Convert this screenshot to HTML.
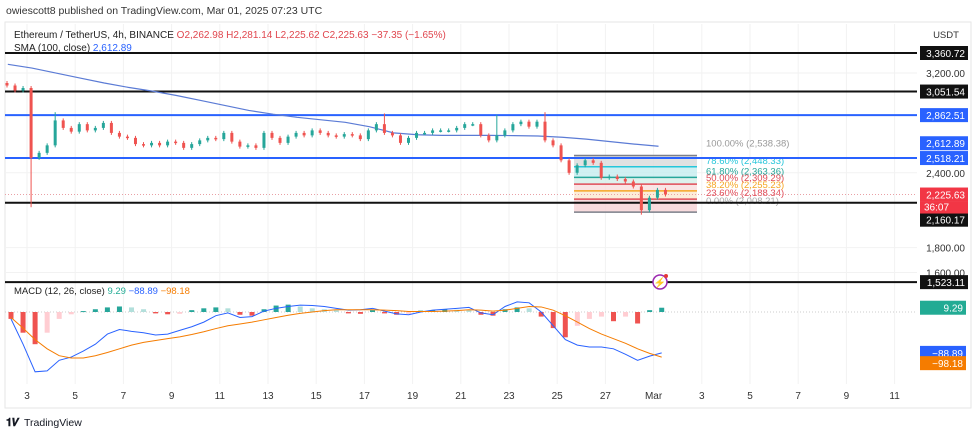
<!DOCTYPE html>
<html><head><meta charset="utf-8">
<style>
body{margin:0;background:#fff;font-family:"Liberation Sans",sans-serif;}
#wrap{position:relative;width:980px;height:436px;overflow:hidden;background:#fff;}
svg text{font-family:"Liberation Sans",sans-serif;}
</style></head>
<body>
<div id="wrap">
<svg id="chart" width="980" height="436" viewBox="0 0 980 436">
  <text x="6" y="14" font-size="10.5" fill="#333">owiescott8 published on TradingView.com, Mar 01, 2025 07:23 UTC</text>
  <rect x="5" y="22" width="966" height="386" fill="none" stroke="#e6e6e6"/>
  <g id="grid"></g>
  <g id="fib"></g>
  <g id="hlines"></g>
  <g id="sma"></g>
  <g id="candles"></g>
  <g id="macd"></g>
  <g id="axis"></g>
  <text x="14" y="38" font-size="10" fill="#222">Ethereum / TetherUS, 4h, BINANCE <tspan fill="#e0464e">O2,262.98</tspan> <tspan fill="#e0464e">H2,281.14</tspan> <tspan fill="#e0464e">L2,225.62</tspan> <tspan fill="#e0464e">C2,225.63</tspan> <tspan fill="#e0464e">−37.35 (−1.65%)</tspan></text>
  <text x="14" y="51" font-size="10" fill="#222">SMA (100, close) <tspan fill="#2962ff">2,612.89</tspan></text>
  <text x="14" y="294" font-size="9.5" fill="#222">MACD (12, 26, close) <tspan fill="#22ab94">9.29</tspan> <tspan fill="#2962ff">−88.89</tspan> <tspan fill="#f57c00">−98.18</tspan></text>
  <g>
    <circle cx="660" cy="282" r="7" fill="#fff" stroke="#9c27b0" stroke-width="1.5"/>
    <text x="660" y="286" font-size="10" fill="#9c27b0" text-anchor="middle">⚡</text>
    <circle cx="666" cy="276" r="2" fill="#e53935"/>
  </g>
  <g>
    <text x="6" y="426" font-size="11" font-weight="bold" fill="#131722">𝟏𝑽</text>
    <text x="24" y="426" font-size="10.5" fill="#131722">TradingView</text>
  </g>
</svg>
</div>
<script>
// ---- data ----
const closes=[3100,3060,3080, 2520,2560,2620, 2820,2760,2730, 2790,2740,2760, 2800,2720,2690, 2680,2630,2620, 2640,2620,2650, 2640,2600,2630, 2660,2680,2670, 2720,2650,2610, 2620,2600,2720, 2680,2640,2690, 2720,2700,2740, 2720,2700,2690, 2710,2700,2670, 2740,2790,2720, 2700,2640,2680, 2720,2720,2740, 2740,2740,2760, 2790,2790,2700, 2660,2700,2740, 2790,2810,2770, 2810,2660,2620, 2500,2400,2460, 2500,2480,2360, 2370,2350,2330, 2290,2100,2200, 2262.98,2225.63];
const firstOpen=3120;
const extremeLows=[[3,2140],[79,2080]];
const extremeHighs=[[6,2870],[47,2860],[61,2850],[67,2870]];
const smaValues=[3270,3240,3200,3160,3120,3085,3055,3020,2980,2940,2900,2870,2845,2825,2805,2770,2720,2705,2700,2700,2700,2698,2695,2685,2670,2650,2630,2613];
const macdValues=[-15,-70,-130,-128,-105,-98,-85,-70,-48,-38,-42,-45,-50,-48,-40,-32,-22,-8,-2,-12,-10,2,8,12,15,14,12,8,4,5,8,2,-4,-6,0,4,6,8,10,-2,-6,12,22,20,0,-30,-60,-72,-76,-76,-80,-92,-105,-96,-88.89];
const signalValues=[-12,-35,-60,-80,-95,-100,-100,-95,-88,-80,-72,-66,-62,-58,-54,-49,-43,-36,-30,-26,-22,-17,-12,-7,-3,0,3,5,5,5,5,4,3,1,1,1,2,3,5,4,2,4,8,12,11,4,-8,-22,-36,-48,-58,-68,-80,-90,-98.18];
const histValues=[-15,-45,-70,-45,-15,-5,2,6,10,12,10,6,-3,-5,-4,4,8,10,8,-6,-8,6,14,16,12,8,6,4,-3,-4,4,-3,-6,-4,3,4,6,5,4,-6,-8,6,10,8,-10,-35,-55,-30,-15,-10,-20,-10,-25,4,9.29];
const dateLabels=["3","5","7","9","11","13","15","17","19","21","23","25","27","Mar","3","5","7","9","11"];
const gridPrices=[3200,2400,1800,1600];
const blackLevels=[3360.72,3051.54,2160.17,1523.11];
const blueLevels=[2862.51,2518.21];
const fibPrices=[2538.38,2448.33,2363.36,2309.29,2255.23,2188.34,2085];
const fibNames=["100.00% (2,538.38)","78.60% (2,448.33)","61.80% (2,363.36)","50.00% (2,309.29)","38.20% (2,255.23)","23.60% (2,188.34)","0.00% (2,008.21)"];
const lastPrice=2225.63;
// ---- scales ----
const NS="http://www.w3.org/2000/svg";
const yP=p=>53+(3360.72-p)/8.02;
const xC=i=>7+i*8.03;
const xM=i=>11+i*12.05;
const xD=d=>3+d*24.1;
const yM=v=>312-v*0.46;
function mk(tag,attrs,parent){const e=document.createElementNS(NS,tag);for(const k in attrs)e.setAttribute(k,attrs[k]);parent.appendChild(e);return e;}
const G=id=>document.getElementById(id);
// grid
const grid=G('grid');
dateLabels.forEach((t,k)=>{const x=27+k*48.2;
  const l=mk('line',{x1:x,x2:x,y1:24,y2:384,stroke:'#f2f2f2'},grid);
  
  
  const tx=mk('text',{x:x,y:399,'font-size':10,fill:'#333','text-anchor':'middle'},grid);tx.textContent=t;
  
  
});
gridPrices.forEach(p=>{const l=mk('line',{x1:5,x2:917,y1:yP(p),y2:yP(p),stroke:'#f2f2f2'},grid);
  
  });
// fib
const fib=G('fib');
const fibFill=['#d9d9d9','#c4ecef','#d4efe9','#f9dede','#fbe9cf','#f6d2d4'];
const fibLine=['#7b7f8a','#26c6da','#26a69a','#e04c58','#f5a623','#e04c58','#7b7f8a'];
const fibText=['#999','#26c6da','#26a69a','#e04c58','#f5a623','#e04c58','#aaa'];
for(let k=0;k<6;k++){const r=mk('rect',{x:574,y:yP(fibPrices[k]),width:123,height:yP(fibPrices[k+1])-yP(fibPrices[k]),fill:fibFill[k],opacity:0.8},fib);
  
  }
fibPrices.forEach((p,k)=>{const l=mk('line',{x1:574,x2:697,y1:yP(p),y2:yP(p),stroke:fibLine[k],'stroke-width':1.5},fib);
  
  
  const t=mk('text',{x:706,y:yP(p)-(k==6?8:(k==0?9:3)),'font-size':9.5,fill:fibText[k]},fib);t.textContent=fibNames[k];
  
  });
// levels
const hl=G('hlines');
blackLevels.forEach(p=>{const l=mk('line',{x1:5,x2:917,y1:yP(p),y2:yP(p),stroke:'#111','stroke-width':2},hl);
  
  });
blueLevels.forEach(p=>{const l=mk('line',{x1:5,x2:917,y1:yP(p),y2:yP(p),stroke:'#2962ff','stroke-width':2},hl);
  
  });
const cp=mk('line',{x1:5,x2:917,y1:yP(lastPrice),y2:yP(lastPrice),stroke:'#e9a0a5','stroke-dasharray':'1 2'},hl);


// sma
const sp=mk('polyline',{points:smaValues.map((v,d)=>xD(d+0.2)+','+yP(v)).join(' '),fill:'none',stroke:'#5b7bd5','stroke-width':1.2},G('sma'));


// candles
const cg=G('candles');
closes.forEach((c,i)=>{const o=i?closes[i-1]:firstOpen;
  let hi=Math.max(o,c),lo=Math.min(o,c);
  extremeLows.forEach(e=>{if(e[0]==i)lo=e[1];});
  extremeHighs.forEach(e=>{if(e[0]==i)hi=e[1];});
  const col=c>=o?'#26a69a':'#ef5350';const x=xC(i);
  const w=mk('line',{x1:x,x2:x,y1:yP(hi)-2,y2:yP(lo)+2,stroke:col,'stroke-width':1},cg);
  
  
  const b=mk('rect',{x:x-1.5,y:yP(Math.max(o,c)),width:3,height:Math.max(1.5,Math.abs(yP(o)-yP(c))),fill:col},cg);
  
  });
// macd
const mg=G('macd');
const z=mk('line',{x1:5,x2:917,y1:yM(0),y2:yM(0),stroke:'#ccc','stroke-dasharray':'1 2'},mg);


histValues.forEach((h,i)=>{const prev=i?histValues[i-1]:0;
  const col=h>=0?(h>=prev?'#26a69a':'#b2dfdb'):(h<=prev?'#ef5350':'#ffcdd2');
  const r=mk('rect',{x:xM(i)-2.5,y:Math.min(yM(0),yM(h)),width:5,height:Math.max(1,Math.abs(yM(h)-yM(0))),fill:col},mg);
  
  });
const ml=mk('polyline',{points:macdValues.map((v,i)=>xM(i)+','+yM(v)).join(' '),fill:'none',stroke:'#2962ff','stroke-width':1},mg);


const sl=mk('polyline',{points:signalValues.map((v,i)=>xM(i)+','+yM(v)).join(' '),fill:'none',stroke:'#f57c00','stroke-width':1},mg);


// axis
const ax=G('axis');
const usd=mk('text',{x:946,y:38,'font-size':9.5,fill:'#333','text-anchor':'middle'},ax);usd.textContent='USDT';


gridPrices.forEach(p=>{const t=mk('text',{x:965,y:yP(p)+4,'font-size':10,fill:'#333','text-anchor':'end'},ax);
  t.textContent=p.toLocaleString('en-US',{minimumFractionDigits:2});
  
  });
const tags=[[3360.72,'#111','3,360.72',0],[3051.54,'#111','3,051.54',0],[2862.51,'#2962ff','2,862.51',0],[2612.89,'#2962ff','2,612.89',-3],[2518.21,'#2962ff','2,518.21',0],[2225.63,'#f23645','2,225.63',0],[2160.17,'#111','2,160.17',17],[1523.11,'#111','1,523.11',0]];
tags.forEach(t=>{const y=yP(t[0])+t[3];
  const r=mk('rect',{x:920,y:y-7,width:48,height:14,fill:t[1]},ax);
  
  
  const tx=mk('text',{x:965,y:y+4,'font-size':10,fill:'#fff','text-anchor':'end'},ax);tx.textContent=t[2];
  
  });
const cd=mk('rect',{x:920,y:yP(2225.63)+7,width:48,height:12,fill:'#f23645'},ax);


const cdt=mk('text',{x:924,y:yP(2225.63)+16,'font-size':10,fill:'#fff'},ax);cdt.textContent='36:07';


const mtags=[[9.29,'#22ab94','9.29',0],[-88.89,'#2962ff','−88.89',0],[-98.18,'#f57c00','−98.18',6]];
mtags.forEach(t=>{const y=yM(t[0])+t[3];
  const r=mk('rect',{x:920,y:y-7,width:46,height:14,fill:t[1]},ax);
  
  
  const tx=mk('text',{x:963,y:y+4,'font-size':10,fill:'#fff','text-anchor':'end'},ax);tx.textContent=t[2];
  
  });
</script>
</body></html>
